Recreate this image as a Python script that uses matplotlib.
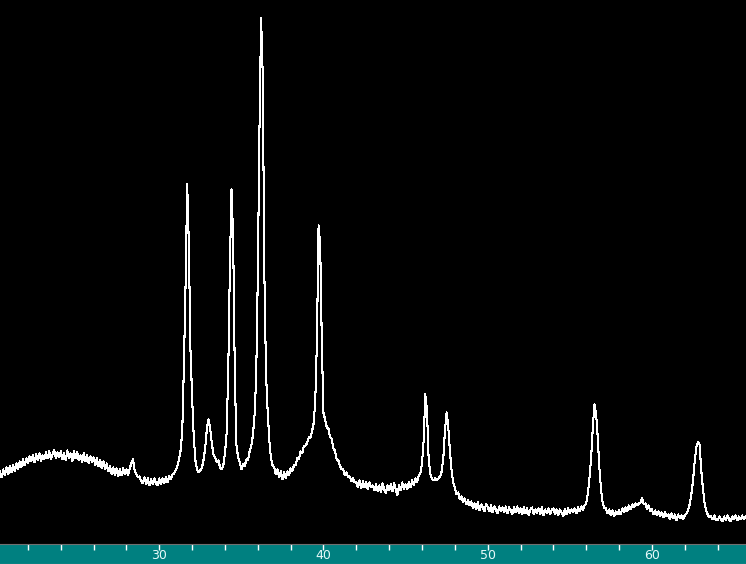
import numpy as np
import matplotlib
matplotlib.use("Agg")
import matplotlib.pyplot as plt

# ----------------- data ---------------------------------------------------

# scan starts at 20.3 deg, step 0.1 deg
start_2theta = 20.3
step_2theta = 0.1

counts = [
    # 20.3 - 20.9
    74, 68, 76, 70, 78, 71, 79,
    # 21
    73, 80, 74, 82, 76, 84, 78, 86, 80, 87,
    # 22
    82, 89, 84, 90, 83, 91, 85, 92, 84, 90,
    # 23
    86, 93, 87, 94, 86, 91, 95, 87, 93, 88,
    # 24
    94, 86, 92, 85, 95, 87, 92, 84, 94, 87,
    # 25
    93, 85, 90, 83, 92, 84, 90, 82, 89, 83,
    # 26
    88, 80, 87, 79, 85, 77, 84, 76, 82, 74,
    # 27
    79, 71, 78, 70, 77, 69, 76, 70, 77, 71,
    # 28
    76, 70, 77, 82, 86, 75, 71, 68, 69, 64,
    # 29
    62, 68, 61, 67, 60, 66, 61, 67, 62, 60,
    # 30
    67, 61, 67, 62, 68, 63, 69, 66, 71, 72,
    # 31
    75, 79, 86, 95, 115, 180, 260, 361, 300, 195,
    # 32
    148, 108, 85, 76, 73, 75, 78, 86, 98, 117,
    # 33
    126, 117, 102, 91, 88, 83, 85, 78, 76, 80,
    # 34
    92, 112, 175, 280, 356, 305, 170, 100, 88, 83,
    # 35
    76, 81, 79, 86, 85, 94, 99, 110, 130, 168,
    # 36
    270, 415, 527, 470, 270, 172, 134, 105, 87, 80,
    # 37
    78, 71, 76, 68, 74, 66, 73, 67, 74, 70,
    # 38
    77, 74, 80, 80, 87, 86, 94, 92, 99, 100,
    # 39
    102, 108, 107, 114, 122, 145, 205, 320, 300, 200,
    # 40
    132, 126, 118, 117, 108, 107, 97, 95, 86, 85,
    # 41
    80, 76, 76, 70, 73, 68, 69, 64, 67, 63,
    # 42
    63, 58, 65, 57, 64, 58, 63, 56, 63, 58,
    # 43
    60, 55, 61, 54, 60, 53, 62, 56, 52, 60,
    # 44
    55, 61, 54, 62, 56, 50, 60, 55, 63, 56,
    # 45
    61, 56, 63, 58, 65, 60, 67, 63, 70, 72,
    # 46
    82, 105, 151, 135, 88, 72, 67, 65, 67, 65,
    # 47
    67, 69, 74, 88, 116, 133, 118, 94, 75, 63,
    # 48
    58, 51, 53, 46, 49, 43, 47, 41, 45, 40,
    # 49
    44, 37, 42, 36, 43, 35, 41, 38, 34, 41,
    # 50
    39, 34, 40, 33, 39, 36, 32, 39, 34, 38,
    # 51
    33, 39, 32, 38, 35, 31, 38, 33, 39, 32,
    # 52
    37, 31, 38, 32, 37, 30, 36, 38, 31, 36,
    # 53
    32, 37, 31, 38, 30, 36, 32, 37, 31, 36,
    # 54
    37, 31, 36, 30, 36, 33, 29, 36, 31, 37,
    # 55
    32, 36, 33, 37, 32, 38, 34, 39, 35, 40,
    # 56
    42, 52, 68, 88, 118, 141, 132, 108, 78, 56,
    # 57
    43, 37, 37, 32, 36, 30, 35, 29, 34, 31,
    # 58
    35, 31, 37, 33, 38, 34, 40, 36, 41, 38,
    # 59
    42, 40, 42, 43, 47, 41, 42, 36, 40, 34,
    # 60
    36, 31, 35, 30, 34, 29, 33, 28, 33, 29,
    # 61
    31, 26, 32, 27, 31, 25, 31, 27, 30, 26,
    # 62
    30, 32, 35, 41, 51, 64, 83, 98, 103, 101,
    # 63
    76, 58, 43, 35, 31, 28, 29, 26, 30, 25,
    # 64
    25, 29, 26, 24, 29, 25, 30, 26, 24, 29,
    # 65.0 - 65.7
    26, 30, 25, 29, 26, 30, 26, 29,
]

two_theta = np.round(start_2theta + step_2theta * np.arange(len(counts)), 2)

tick_positions = list(range(20, 66, 2))
tick_labels = ["30", "40", "50", "60"]
x_range = (20.3, 65.73)

# ----------------- plot ----------------------------

fig = plt.figure(figsize=(7.46, 5.64), dpi=100, facecolor="black")

bar_h = 20 / 564
ax = fig.add_axes([0, bar_h, 1, 1 - bar_h], facecolor="black")
ax.plot(two_theta, counts, color="white", lw=0.75, antialiased=False)
ax.set_xticks([])
ax.set_yticks([])
ax.set_xlim(*x_range)
ax.set_ylim(1.5, 545)
for s in ax.spines.values():
    s.set_visible(False)

# teal axis strip at the bottom
bar = fig.add_axes([0, 0, 1, bar_h], facecolor="#008080")
bar.set_yticks([])
bar.set_xticks(tick_positions)
bar.set_xticklabels([str(t) if str(t) in tick_labels else "" for t in tick_positions],
                    family=["Liberation Sans Narrow", "DejaVu Sans"])
bar.set_xlim(*x_range)   # after set_xticks, otherwise 20 widens the range
bar.set_ylim(0, 1)
bar.tick_params(axis="x", top=True, bottom=False, labeltop=True, labelbottom=False,
                direction="in", length=4, width=1, color="white",
                labelcolor="#e8fafa", labelsize=9, pad=-13)
bar.spines["left"].set_visible(False)
bar.spines["right"].set_visible(False)
bar.spines["top"].set_color("#707070")
bar.spines["bottom"].set_color("#b0b0b0")

fig.savefig("out.png", dpi=100, facecolor="black")
